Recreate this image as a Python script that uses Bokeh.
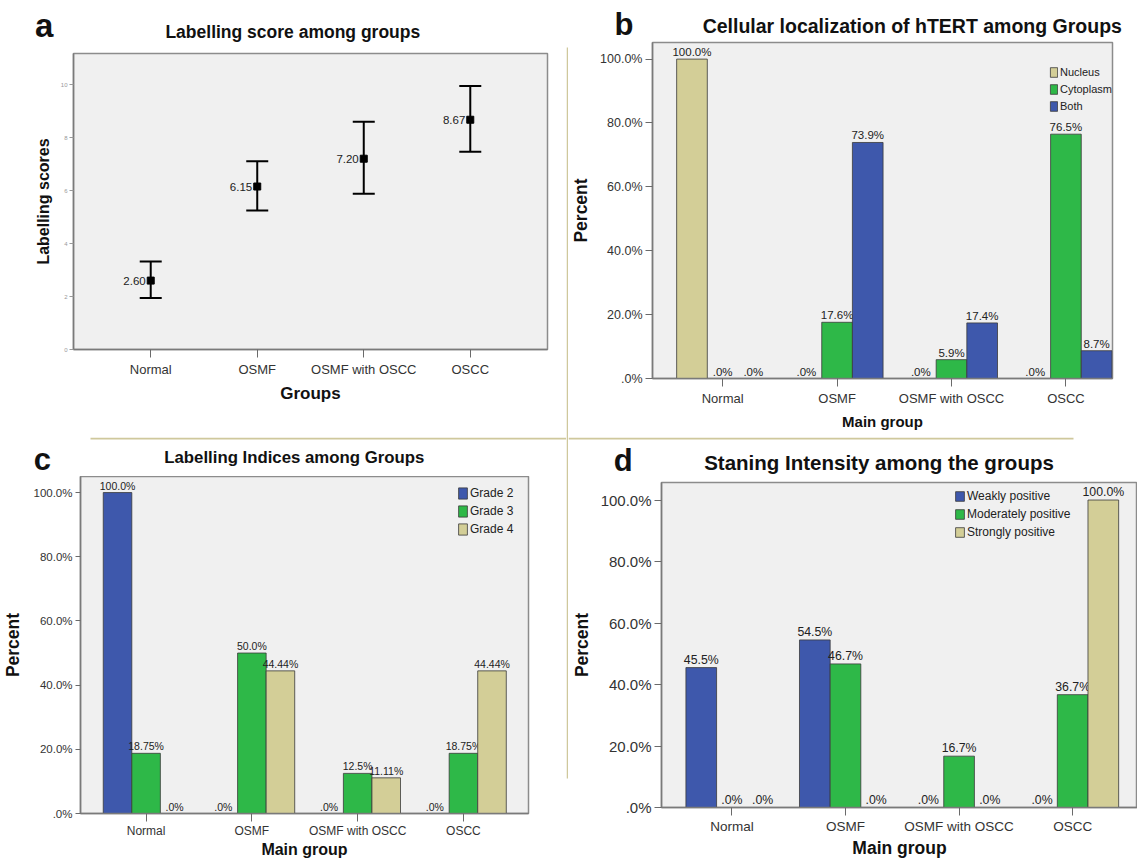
from bokeh.plotting import figure
from bokeh.layouts import column, row
from bokeh.models import ColumnDataSource, FixedTicker, Range1d, Whisker, TeeHead
from bokeh.embed import file_html
from bokeh.resources import INLINE
from bokeh.core.properties import value
from bokeh.transform import dodge

# ---------------- data ----------------
groups = ["Normal", "OSMF", "OSMF with OSCC", "OSCC"]

# (a) labelling score: mean with error bars
score_mean = [2.60, 6.15, 7.20, 8.67]
score_lower = [1.94, 5.25, 5.88, 7.46]
score_upper = [3.32, 7.10, 8.59, 9.94]
score_ticks = [0, 2, 4, 6, 8, 10]

# (b) cellular localization of hTERT
loc_series = ["Nucleus", "Cytoplasm", "Both"]
loc_nucleus = [100.0, 0.0, 0.0, 0.0]
loc_cytoplasm = [0.0, 17.6, 5.9, 76.5]
loc_both = [0.0, 73.9, 17.4, 8.7]

# (c) labelling indices
li_series = ["Grade 2", "Grade 3", "Grade 4"]
li_grade2 = [100.0, 0.0, 0.0, 0.0]
li_grade3 = [18.75, 50.0, 12.5, 18.75]
li_grade4 = [0.0, 44.44, 11.11, 44.44]

# (d) staining intensity
si_series = ["Weakly positive", "Moderately positive", "Strongly positive"]
si_weak = [45.5, 54.5, 0.0, 0.0]
si_moderate = [0.0, 46.7, 16.7, 36.7]
si_strong = [0.0, 0.0, 0.0, 100.0]

pct_ticks = [0, 20, 40, 60, 80, 100]

# ---------------- style ----------------
FONT = "Liberation Sans"
BLUE = "#3E58AC"
GREEN = "#2EB848"
TAN = "#D3CE97"
SEP = "#CFC89C"


def pct1(v):
    return ".0%" if v == 0 else f"{v:.1f}%"


def pct_raw(v):
    return ".0%" if v == 0 else f"{v}%"


def base_fig(w, h, left, right, top, bottom, xr, yr):
    p = figure(width=w, height=h, x_range=Range1d(*xr), y_range=Range1d(*yr),
               output_backend="svg", toolbar_location=None, tools="",
               min_border_left=left, min_border_right=right,
               min_border_top=top, min_border_bottom=bottom)
    p.frame_align = False
    p.background_fill_color = "#F0F0F0"
    p.border_fill_color = "white"
    p.outline_line_color = "#8C8C8C"
    p.outline_line_width = 1.5
    p.xgrid.visible = False
    p.ygrid.visible = False
    for ax in (p.xaxis[0], p.yaxis[0]):
        ax.axis_line_color = "#7A7A7A"
        ax.axis_line_width = 1.5
        ax.major_tick_line_color = "#6A6A6A"
        ax.major_tick_in = 0
        ax.minor_tick_line_color = None
        ax.major_label_text_font = FONT
        ax.major_label_text_color = "#333333"
        ax.axis_label_text_font = FONT
        ax.axis_label_text_font_style = "bold"
        ax.axis_label_text_color = "#111111"
    p.xaxis.ticker = FixedTicker(ticks=list(range(len(groups))))
    p.xaxis.major_label_overrides = {i: g for i, g in enumerate(groups)}
    p.xaxis.major_tick_out = 8
    return p


def header_fig(w, h):
    """Plain white strip, one pixel per data unit, y running downwards."""
    p = figure(width=w, height=h, x_range=Range1d(0, w), y_range=Range1d(h, 0),
               output_backend="svg", toolbar_location=None, tools="",
               x_axis_location=None, y_axis_location=None,
               min_border_left=0, min_border_right=0,
               min_border_top=0, min_border_bottom=0)
    p.frame_align = False
    p.outline_line_color = None
    p.background_fill_color = "white"
    p.border_fill_color = "white"
    p.xgrid.visible = False
    p.ygrid.visible = False
    return p


def head_text(p, x, y, text, size, align="left"):
    p.text(x=[x], y=[y], text=[text], text_align=align,
           text_baseline="middle", text_font=value(FONT),
           text_font_size=size, text_font_style="bold", text_color="#111111")


def sep(p, left, right, top, bottom):
    p.quad(left=[left], right=[right], top=[top], bottom=[bottom],
           fill_color=SEP, line_color=None)


def pct_axis(p, tick_size, label_size, standoff, tick_out=7):
    ax = p.yaxis[0]
    ax.ticker = FixedTicker(ticks=pct_ticks)
    ax.major_label_overrides = {t: pct1(t) for t in pct_ticks}
    ax.major_label_text_font_size = tick_size
    ax.major_tick_out = tick_out
    ax.major_label_standoff = 3
    ax.axis_label = "Percent"
    ax.axis_label_text_font_size = label_size
    ax.axis_label_standoff = standoff


def bars(p, series_vals, names, colors, width, label_size, fmt, legend_cfg):
    n = len(series_vals)
    for k, (vals, name, col) in enumerate(zip(series_vals, names, colors)):
        off = (k - (n - 1) / 2) * width
        src = ColumnDataSource(dict(x=list(range(len(groups))), top=vals,
                                    label=[fmt(v) for v in vals]))
        p.vbar(x=dodge("x", off), top="top", bottom=0, width=width, source=src,
               fill_color=col, line_color="#3A3A3A", line_width=0.8,
               legend_label=name)
        p.text(x=dodge("x", off), y="top", text="label", source=src,
               text_align="center", text_baseline="bottom", y_offset=-1,
               text_font=value(FONT), text_font_size=label_size,
               text_color="#222222")
    lg = p.legend[0]
    vx, vy, gw, gh, sp, fs = legend_cfg
    lg.location = (vx, vy)
    lg.background_fill_alpha = 0
    lg.border_line_alpha = 0
    lg.padding = 0
    lg.margin = 0
    lg.spacing = sp
    lg.glyph_width = gw
    lg.glyph_height = gh
    lg.label_height = gh
    lg.label_standoff = 2
    lg.label_text_font = FONT
    lg.label_text_font_size = fs
    lg.label_text_color = "#222222"


# ---------------- (a) ----------------
ha = header_fig(566, 44)
head_text(ha, 34.6, 25.0, "a", "33px")
head_text(ha, 292.3, 31.9, "Labelling score among groups", "17.5px", align="center")

pa = base_fig(566, 393, 73, 19, 9, 88, (-0.725, 3.725), (0, 11.17))
pa.yaxis.ticker = FixedTicker(ticks=score_ticks)
pa.yaxis.major_label_text_font_size = "6px"
pa.yaxis.major_label_text_color = "#999999"
pa.yaxis.major_tick_out = 4
pa.yaxis.major_tick_line_color = "#999999"
pa.yaxis.major_label_standoff = 2
pa.yaxis.axis_label = "Labelling scores"
pa.yaxis.axis_label_text_font_size = "16px"
pa.yaxis.axis_label_standoff = 6
pa.xaxis.major_label_text_font_size = "13px"
pa.xaxis.major_label_standoff = 4
pa.xaxis.axis_label = "Groups"
pa.xaxis.axis_label_text_font_size = "17px"
pa.xaxis.axis_label_standoff = 4

src_a = ColumnDataSource(dict(x=list(range(len(groups))), mean=score_mean,
                              lower=score_lower, upper=score_upper,
                              label=[f"{m:.2f}" for m in score_mean]))
pa.add_layout(Whisker(base="x", upper="upper", lower="lower", source=src_a,
                      dimension="height", line_color="black", line_width=2,
                      upper_head=TeeHead(size=22, line_width=2, line_color="black"),
                      lower_head=TeeHead(size=22, line_width=2, line_color="black")))
pa.scatter(x="x", y="mean", source=src_a, marker="square", size=7, color="black")
pa.text(x="x", y="mean", text="label", source=src_a, text_align="right",
        text_baseline="middle", x_offset=-5, text_font=value(FONT),
        text_font_size="11.5px", text_color="#222222")

# ---------------- (b) ----------------
hb = header_fig(569, 41)
head_text(hb, 46, 23.5, "b", "31px")
head_text(hb, 343.8, 25.5, "Cellular localization of hTERT among Groups", "19.5px",
          align="center")

pb = base_fig(569, 396, 83, 25, 1, 59, (-0.613, 3.407), (0, 105.2))
pct_axis(pb, "12.5px", "17.5px", 6)
pb.xaxis.major_label_text_font_size = "13px"
pb.xaxis.major_label_standoff = 4
pb.xaxis.axis_label = "Main group"
pb.xaxis.axis_label_text_font_size = "15px"
pb.xaxis.axis_label_standoff = 4
bars(pb, [loc_nucleus, loc_cytoplasm, loc_both], loc_series, [TAN, GREEN, BLUE],
     0.268, "11.5px", pct1, (397, 266, 9, 12, 5, "11px"))

# ---------------- (c) ----------------
hc = header_fig(566, 39)
sep(hc, 90, 566, 0, 2)
head_text(hc, 33.3, 21.6, "c", "31px")
head_text(hc, 293.8, 20.4, "Labelling Indices among Groups", "16.8px", align="center")

pc = base_fig(566, 385, 80, 38, 0, 48, (-0.62, 3.615), (0, 105.0))
pct_axis(pc, "11.5px", "17.5px", 7, tick_out=5)
pc.xaxis.major_label_text_font_size = "12px"
pc.xaxis.major_label_standoff = 2
pc.xaxis.axis_label = "Main group"
pc.xaxis.axis_label_text_font_size = "16px"
pc.xaxis.axis_label_standoff = 0
bars(pc, [li_grade2, li_grade3, li_grade4], li_series, [BLUE, GREEN, TAN],
     0.27, "10.5px", pct_raw, (377, 277, 11, 14, 4, "12px"))

# ---------------- (d) ----------------
hd = header_fig(569, 44)
sep(hd, 0, 505, 0, 2)
head_text(hd, 45.3, 23.0, "d", "31px")
head_text(hd, 310.5, 24.5, "Staning Intensity among the groups", "20.5px",
          align="center")

pd_ = base_fig(569, 380, 91, 0, 1, 54, (-0.62, 3.571), (0, 105.7))
pct_axis(pd_, "15px", "17.5px", 6)
pd_.xaxis.major_label_text_font_size = "13.5px"
pd_.xaxis.major_label_standoff = 3
pd_.xaxis.axis_label = "Main group"
pd_.xaxis.axis_label_text_font_size = "17.5px"
pd_.xaxis.axis_label_standoff = 1
bars(pd_, [si_weak, si_moderate, si_strong], si_series, [BLUE, GREEN, TAN],
     0.27, "12.3px", pct1, (293, 268, 11, 12, 4, "12px"))

# ---------------- vertical separator ----------------
vs = header_fig(2, 861)
sep(vs, 0, 2, 47, 778)

page = row(column(ha, pa, hc, pc), vs, column(hb, pb, hd, pd_))
open("out.html", "w").write(file_html(page, INLINE))
